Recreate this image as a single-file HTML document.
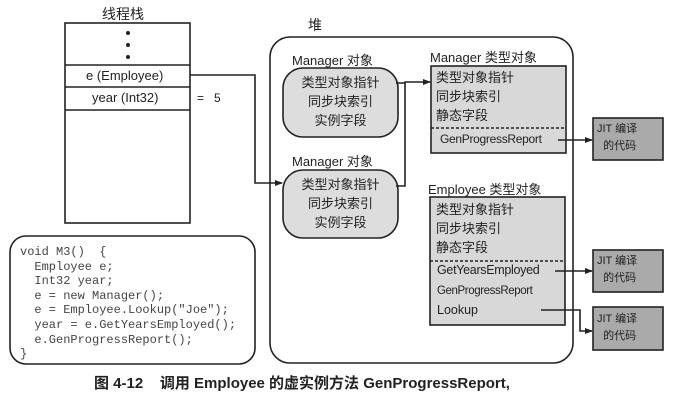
<!DOCTYPE html>
<html><head><meta charset="utf-8"><style>
body{margin:0;width:682px;height:412px;background:#fff;position:relative;overflow:hidden;font-family:"Liberation Sans","Noto Sans CJK SC",sans-serif;color:#222}
.a{position:absolute;white-space:nowrap}
.cn{font-size:13px}
</style></head><body>
<svg class="a" style="left:0;top:0" width="682" height="412">
<defs><marker id="ar" markerWidth="8" markerHeight="8" refX="7" refY="4" orient="auto" markerUnits="userSpaceOnUse"><path d="M0,1 L8,4 L0,7z" fill="#222"/></marker></defs>
<g stroke="#222" stroke-width="1.6" fill="none">
<rect x="65" y="23" width="125" height="200" fill="#fff"/>
<line x1="65" y1="65" x2="190" y2="65"/><line x1="65" y1="87" x2="190" y2="87"/><line x1="65" y1="110" x2="190" y2="110"/>
<rect x="270" y="37" width="303" height="326" rx="20"/>
<rect x="10" y="236" width="245" height="128" rx="16"/>
<rect x="283" y="68" width="115" height="69" rx="20" fill="#ddd"/>
<rect x="283" y="170" width="115" height="68" rx="20" fill="#ddd"/>
<rect x="431" y="66" width="135" height="87" fill="#d8d8d8"/>
<rect x="430" y="197" width="135" height="128" fill="#d8d8d8"/>
<rect x="593" y="118" width="70" height="42" fill="#aaa"/>
<rect x="593" y="250" width="70" height="42" fill="#aaa"/>
<rect x="593" y="307" width="70" height="43" fill="#aaa"/>
<line x1="431" y1="128" x2="566" y2="128" stroke-dasharray="3,2"/>
<line x1="430" y1="261" x2="565" y2="261" stroke-dasharray="3,2"/>
<polyline points="190,75 255,75 255,183 282,183" marker-end="url(#ar)"/>
<polyline points="396,83 405,83 405,82 430,82" marker-end="url(#ar)"/>
<polyline points="396,186 405,186 405,83"/>
<line x1="558" y1="140" x2="592" y2="140" marker-end="url(#ar)"/>
<line x1="555" y1="271" x2="592" y2="271" marker-end="url(#ar)"/>
<polyline points="541,310 580,310 580,331 592,331" marker-end="url(#ar)"/>
</g>
<g fill="#222"><circle cx="128" cy="33" r="2"/><circle cx="128" cy="45" r="2"/><circle cx="128" cy="57" r="2"/></g>
</svg>
<div class="a cn" style="left:102px;top:4px;font-size:14px">线程栈</div>
<div class="a" style="left:86px;top:68px;font-size:13px">e (Employee)</div>
<div class="a" style="left:92px;top:90px;font-size:13px">year (Int32)</div>
<div class="a" style="left:197px;top:91px;font-size:12px">=&nbsp;&nbsp; 5</div>
<div class="a cn" style="left:308px;top:15px;font-size:14px">堆</div>
<div class="a" style="left:292px;top:50px;font-size:13px">Manager 对象</div>
<div class="a cn" style="left:290px;top:73px;line-height:19px;text-align:center;width:101px">类型对象指针<br>同步块索引<br>实例字段</div>
<div class="a" style="left:292px;top:151px;font-size:13px">Manager 对象</div>
<div class="a cn" style="left:290px;top:175px;line-height:19px;text-align:center;width:101px">类型对象指针<br>同步块索引<br>实例字段</div>
<div class="a" style="left:430px;top:47px;font-size:13px">Manager 类型对象</div>
<div class="a cn" style="left:436px;top:68px;line-height:19px">类型对象指针<br>同步块索引<br>静态字段</div>
<div class="a" style="left:440px;top:132px;font-size:12px;letter-spacing:-0.3px">GenProgressReport</div>
<div class="a" style="left:428px;top:179px;font-size:13px">Employee 类型对象</div>
<div class="a cn" style="left:436px;top:200px;line-height:19px">类型对象指针<br>同步块索引<br>静态字段</div>
<div class="a" style="left:437px;top:263px;font-size:12.5px;letter-spacing:-0.3px">GetYearsEmployed</div>
<div class="a" style="left:437px;top:285px;font-size:11.5px;letter-spacing:-0.4px">GenProgressReport</div>
<div class="a" style="left:437px;top:303px;font-size:12.5px">Lookup</div>
<div class="a" style="left:597px;top:121px;font-size:11px;line-height:17px">JIT 编译<br>&nbsp;&nbsp;的代码</div>
<div class="a" style="left:597px;top:253px;font-size:11px;line-height:17px">JIT 编译<br>&nbsp;&nbsp;的代码</div>
<div class="a" style="left:597px;top:311px;font-size:11px;line-height:17px">JIT 编译<br>&nbsp;&nbsp;的代码</div>
<pre class="a" style="left:20px;top:245px;margin:0;white-space:pre;font-family:'Liberation Mono',monospace;font-size:12px;line-height:14.6px;color:#444">void M3()  {
  Employee e;
  Int32 year;
  e = new Manager();
  e = Employee.Lookup("Joe");
  year = e.GetYearsEmployed();
  e.GenProgressReport();
}</pre>
<div class="a" style="left:94px;top:372px;font-size:15px;font-weight:bold">图 4-12&nbsp;&nbsp;&nbsp; 调用 Employee 的虚实例方法 GenProgressReport,</div>
</body></html>
